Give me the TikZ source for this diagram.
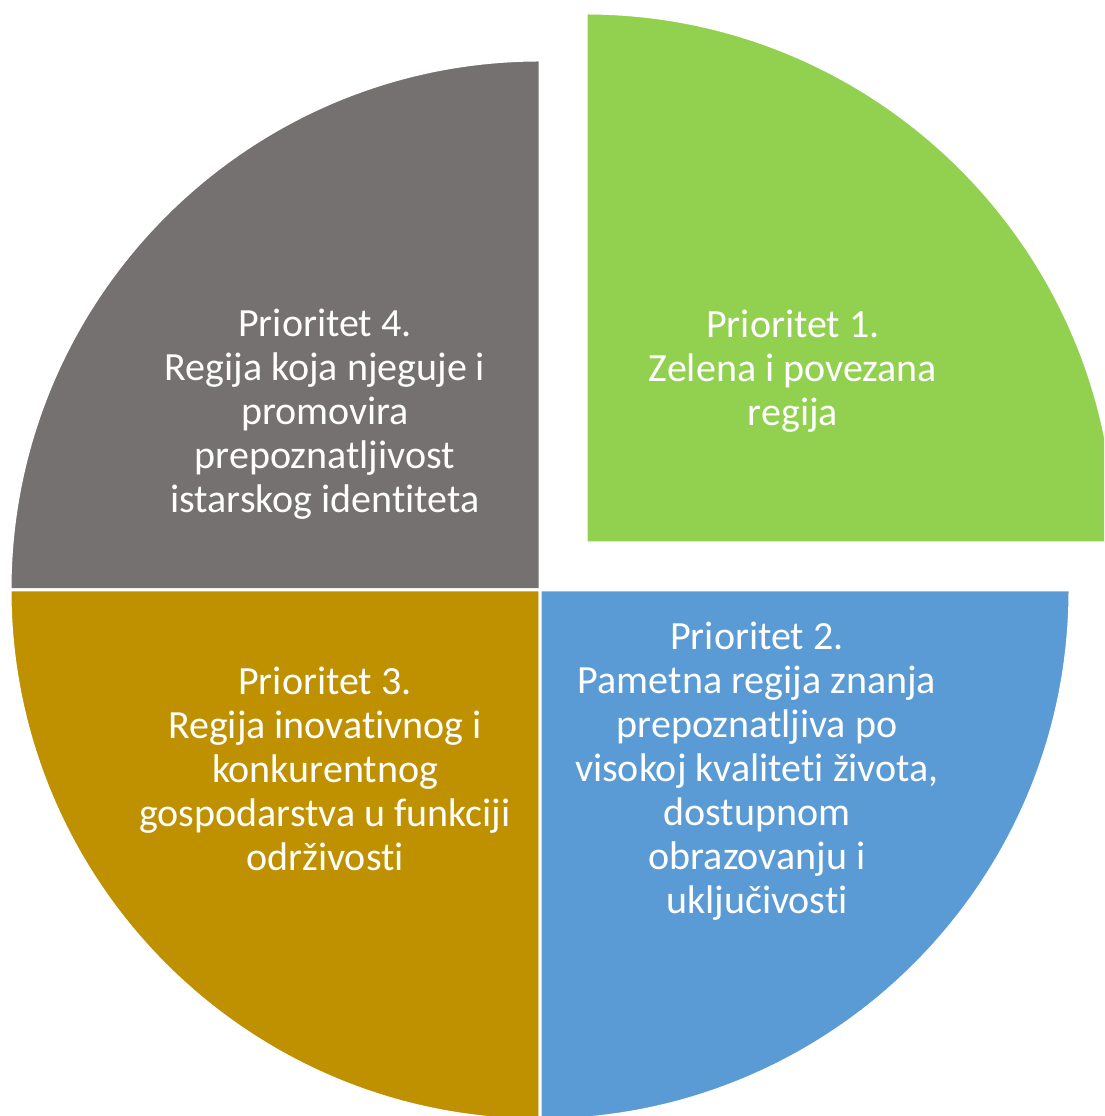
\documentclass[tikz,border=0pt]{standalone}
\usepackage{fontspec}
\setmainfont{Carlito}[Ligatures=NoCommon]
\definecolor{prigreen}{HTML}{92D050}
\definecolor{priblue}{HTML}{5B9BD5}
\definecolor{prigold}{HTML}{BF9000}
\definecolor{prigray}{HTML}{767171}

\begin{document}
\begin{tikzpicture}[x=1pt,y=1pt,font=\fontsize{40}{44}\selectfont,
    slice/.style={draw=white,line width=3pt},
    lbl/.style={text=white,align=center,inner sep=0pt}]
                \useasboundingbox (0,0) rectangle (1104,1116);
                \clip (0,0) rectangle (1104,1116);
                % pie, centre (540,526), radius 530
                \filldraw[slice,fill=prigray] (540,526)--(10,526) arc(180:90:530)--cycle;
                \filldraw[slice,fill=prigold] (540,526)--(540,-4) arc(270:180:530)--cycle;
                \filldraw[slice,fill=priblue] (540,526)--(1070,526) arc(0:-90:530)--cycle;
                % pulled-out slice
                \filldraw[slice,fill=prigreen] (586,573)--(586,1103) arc(90:0:530)--cycle;
                \node[lbl] (p1) at (793,745) {Prioritet 1.\\ Zelena i povezana\\ regija};
                \node[lbl] (p2) at (757,345) {Prioritet 2.\\ Pametna regija znanja\\ prepoznatljiva po\\ visokoj kvaliteti života,\\ dostupnom\\ obrazovanju i\\ uključivosti};
                \node[lbl] (p3) at (325,347) {Prioritet 3.\\ Regija inovativnog i\\ konkurentnog\\ gospodarstva u funkciji\\ održivosti};
                \node[lbl] (p4) at (325,702) {Prioritet 4.\\ Regija koja njeguje i\\ promovira\\ prepoznatljivost\\ istarskog identiteta};
            \end{tikzpicture}
\end{document}
